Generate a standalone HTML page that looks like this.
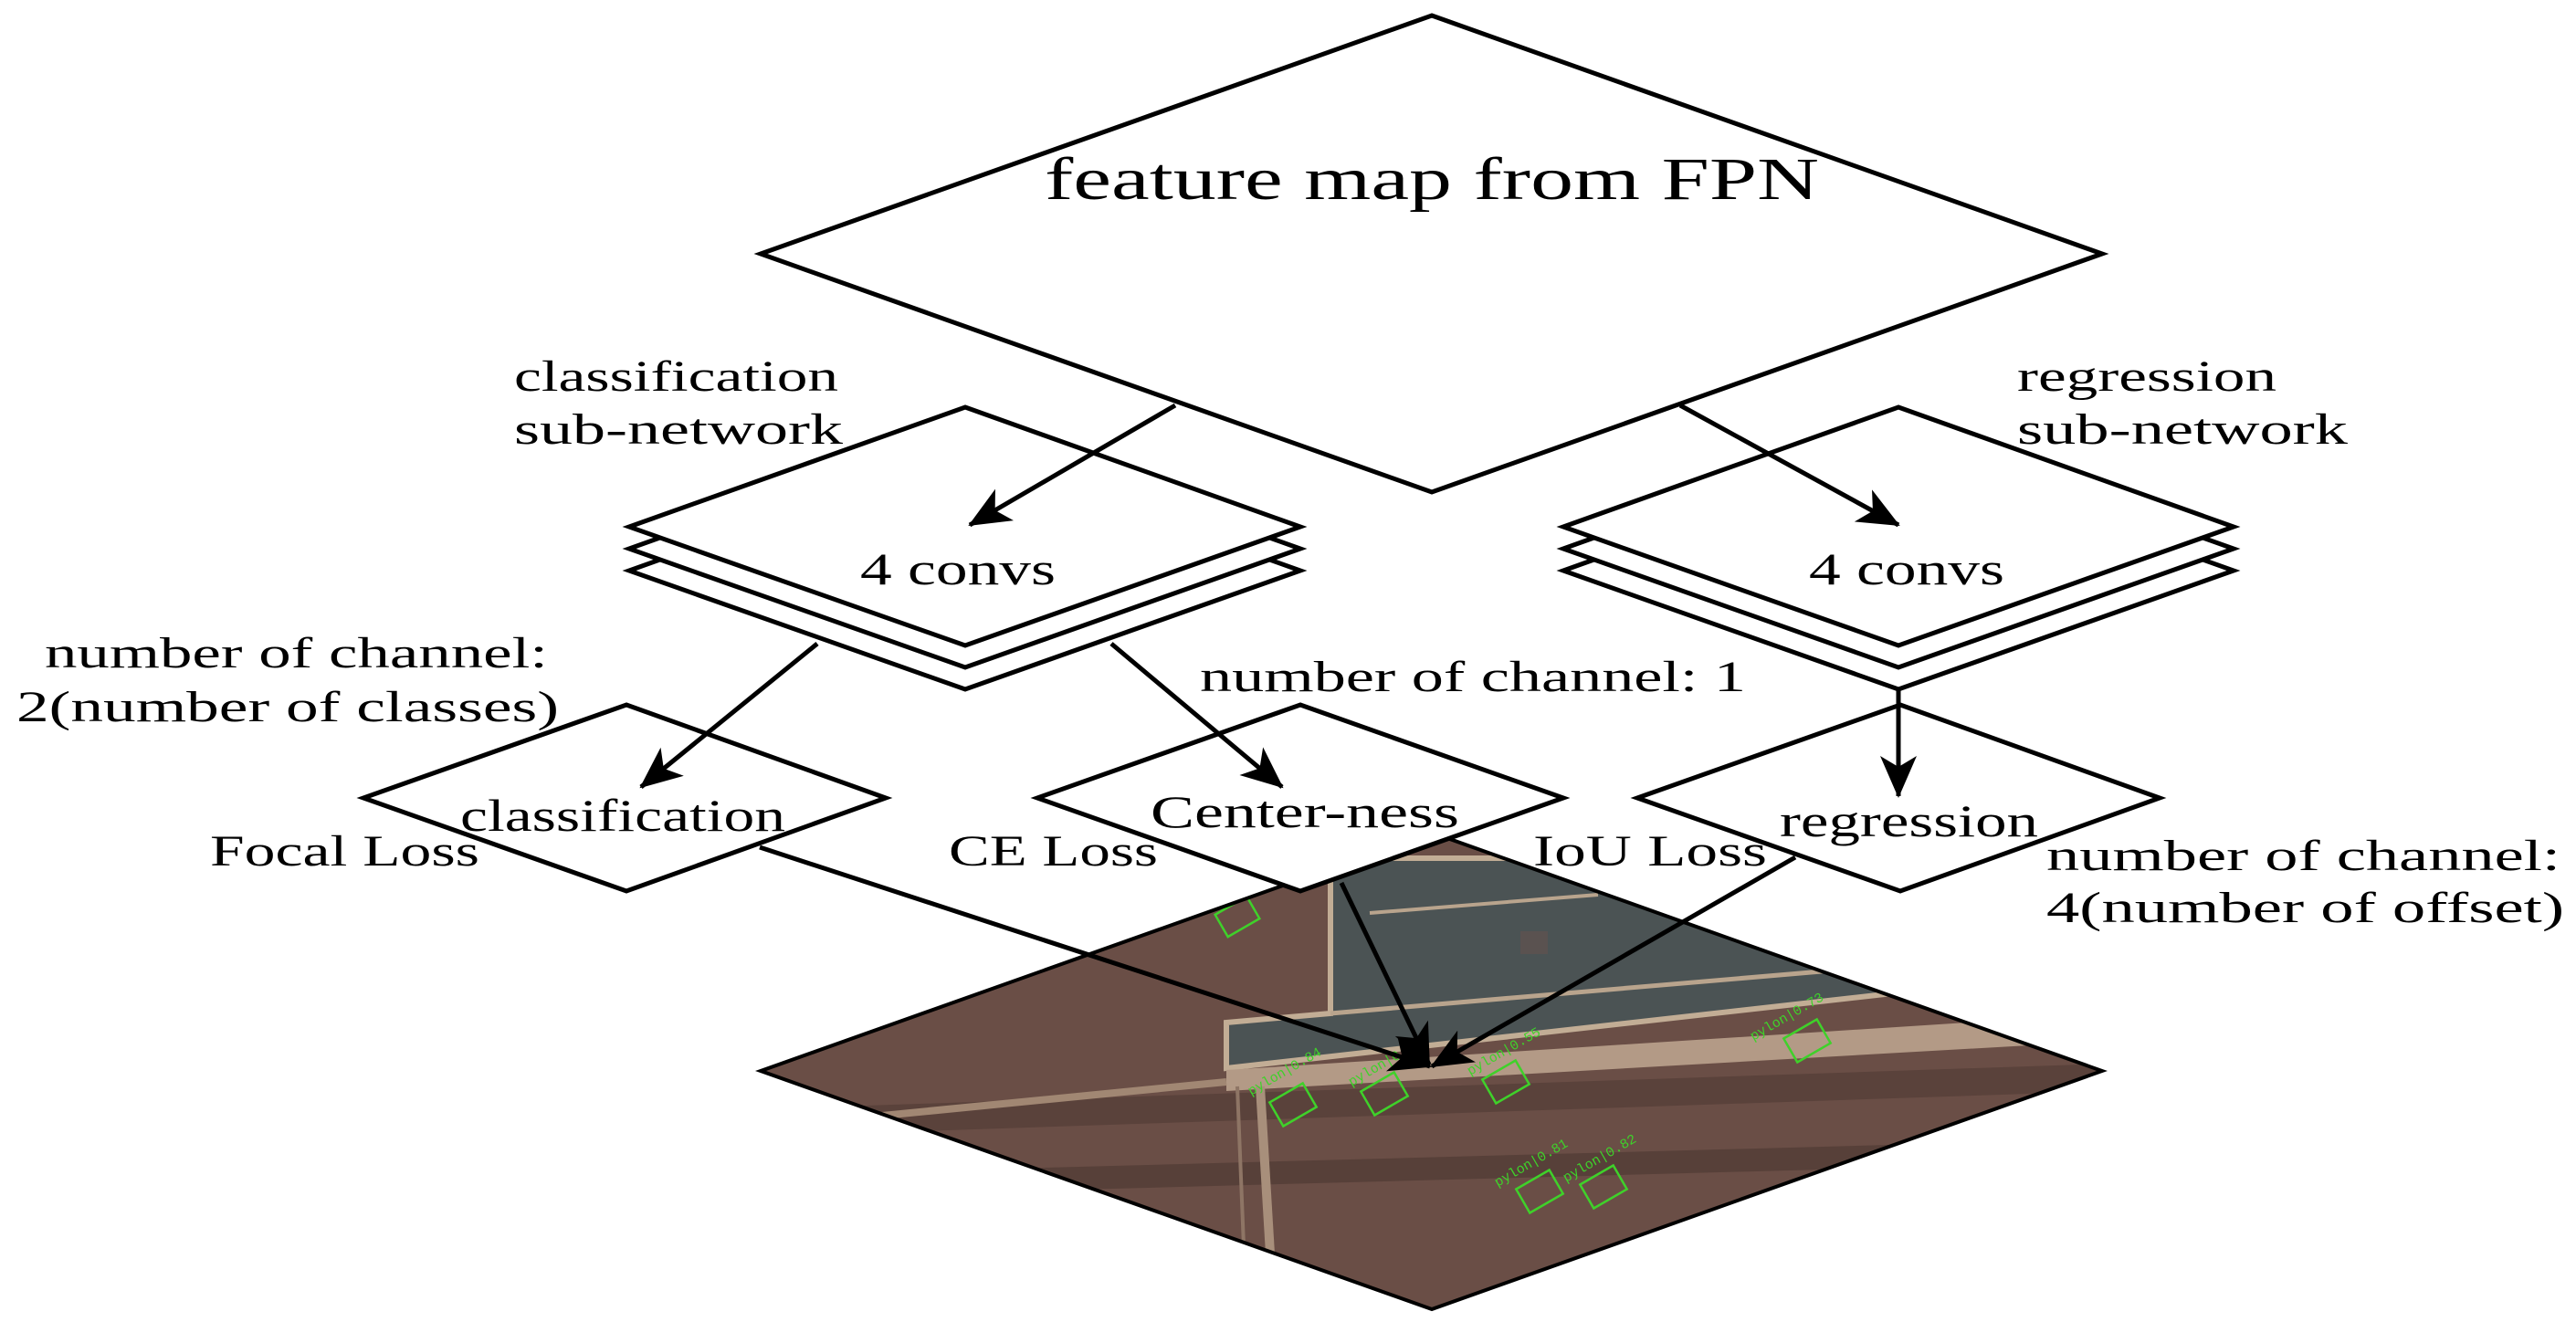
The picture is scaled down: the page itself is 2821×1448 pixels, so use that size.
<!DOCTYPE html>
<html><head><meta charset="utf-8"><style>
html,body{margin:0;padding:0;background:#fff;}
svg{display:block;}
text{font-family:"Liberation Serif",serif;fill:#000;}
</style></head><body>
<svg width="2821" height="1448" viewBox="0 0 2821 1448" xmlns="http://www.w3.org/2000/svg">
<defs>
<marker id="ah" markerUnits="userSpaceOnUse" markerWidth="60" markerHeight="50" refX="44" refY="20" orient="auto">
<path d="M0,0 L46,20 L0,40 L12,20 Z" fill="#000"/>
</marker>
<clipPath id="pc"><polygon points="1568,912 2302,1173 1568,1434 833,1173"/></clipPath>
</defs>

<!-- photo -->
<g clip-path="url(#pc)">
<rect x="830" y="900" width="1480" height="540" fill="#644a42"/>
<rect x="830" y="900" width="1480" height="540" fill="#705249" opacity="0.5"/>
<line x1="830" y1="1230" x2="2310" y2="1180" stroke="#5a423b" stroke-width="30"/>
<line x1="830" y1="1300" x2="2310" y2="1260" stroke="#574039" stroke-width="25"/>
<!-- substation -->
<polygon points="1457,940 2100,940 2100,1085 1343,1170 1343,1120 1457,1110" fill="#4b5354"/>
<polygon points="1457,940 2100,940 2100,1085 1343,1170 1343,1120 1457,1110" fill="none" stroke="#c2ad95" stroke-width="6"/>
<line x1="1457" y1="1110" x2="2100" y2="1055" stroke="#b9a48d" stroke-width="5"/>
<line x1="1500" y1="1000" x2="1750" y2="980" stroke="#b9a48d" stroke-width="4"/>
<rect x="1665" y="1020" width="30" height="25" fill="#5a5250"/>
<!-- roads -->
<polygon points="1343,1172 2310,1110 2310,1140 1343,1195" fill="#b39a86"/>
<line x1="833" y1="1235" x2="1343" y2="1185" stroke="#a18773" stroke-width="8"/>
<line x1="1380" y1="1190" x2="1395" y2="1440" stroke="#a88f7b" stroke-width="10"/>
<line x1="1355" y1="1190" x2="1365" y2="1440" stroke="#8e7565" stroke-width="4"/>
<!-- detections -->
<g fill="none" stroke="#3fd12a" stroke-width="2.5">
<rect x="1335" y="990" width="40" height="28" transform="rotate(-30 1355 1004)"/>
<rect x="1395" y="1195" width="42" height="30" transform="rotate(-30 1416 1210)"/>
<rect x="1495" y="1183" width="42" height="30" transform="rotate(-30 1516 1198)"/>
<rect x="1628" y="1170" width="42" height="30" transform="rotate(-30 1649 1185)"/>
<rect x="1958" y="1125" width="42" height="30" transform="rotate(-30 1979 1140)"/>
<rect x="1665" y="1290" width="42" height="30" transform="rotate(-30 1686 1305)"/>
<rect x="1735" y="1285" width="42" height="30" transform="rotate(-30 1756 1300)"/>
</g>
<g font-family="Liberation Mono,monospace" font-size="15" fill="#3fd12a">
<text x="1370" y="1200" transform="rotate(-30 1370 1200)" style="fill:#3fd12a;font-family:'Liberation Mono',monospace">pylon|0.84</text>
<text x="1480" y="1190" transform="rotate(-30 1480 1190)" style="fill:#3fd12a;font-family:'Liberation Mono',monospace">pylon|0.44</text>
<text x="1610" y="1178" transform="rotate(-30 1610 1178)" style="fill:#3fd12a;font-family:'Liberation Mono',monospace">pylon|0.55</text>
<text x="1920" y="1140" transform="rotate(-30 1920 1140)" style="fill:#3fd12a;font-family:'Liberation Mono',monospace">pylon|0.73</text>
<text x="1640" y="1300" transform="rotate(-30 1640 1300)" style="fill:#3fd12a;font-family:'Liberation Mono',monospace">pylon|0.81</text>
<text x="1715" y="1295" transform="rotate(-30 1715 1295)" style="fill:#3fd12a;font-family:'Liberation Mono',monospace">pylon|0.82</text>
</g>
</g>
<polygon points="1568,912 2302,1173 1568,1434 833,1173" fill="none" stroke="#000" stroke-width="4"/>

<g fill="#fff" stroke="#000" stroke-width="5" stroke-linejoin="miter">
<!-- big diamond -->
<polygon points="1568,17 2302,278 1568,539 833,278"/>
<!-- left convs -->
<polygon points="1057,494 1424,625 1057,755 689,625"/>
<polygon points="1057,470 1424,601 1057,731 689,601"/>
<polygon points="1057,446 1424,577 1057,707 689,577"/>
<!-- right convs -->
<polygon points="2079,494 2446,625 2079,755 1712,625"/>
<polygon points="2079,470 2446,601 2079,731 1712,601"/>
<polygon points="2079,446 2446,577 2079,707 1712,577"/>
<!-- small diamonds -->
<polygon points="686,772 970,874 686,976 398,874"/>
<polygon points="1424,772 1712,874 1424,976 1136,874"/>
<polygon points="2081,772 2365,874 2081,976 1793,874"/>
</g>

<!-- arrows -->
<g stroke="#000" stroke-width="5" fill="none" marker-end="url(#ah)">
<line x1="1287" y1="444" x2="1062" y2="575"/>
<line x1="1840" y1="444" x2="2079" y2="575"/>
<line x1="895" y1="705" x2="702" y2="862"/>
<line x1="1217" y1="705" x2="1404" y2="862"/>
<line x1="2079" y1="755" x2="2079" y2="872"/>
<line x1="832" y1="928" x2="1566" y2="1168"/>
<line x1="1469" y1="967" x2="1565" y2="1166"/>
<line x1="1966" y1="939" x2="1568" y2="1168"/>
</g>

<!-- text -->
<text x="1144" y="218" font-size="66" textLength="848" lengthAdjust="spacingAndGlyphs">feature map from FPN</text>
<text x="942" y="640" font-size="50" textLength="214" lengthAdjust="spacingAndGlyphs">4 convs</text>
<text x="1981" y="640" font-size="50" textLength="214" lengthAdjust="spacingAndGlyphs">4 convs</text>
<text x="504" y="910" font-size="50" textLength="356" lengthAdjust="spacingAndGlyphs">classification</text>
<text x="1260" y="906" font-size="50" textLength="338" lengthAdjust="spacingAndGlyphs">Center-ness</text>
<text x="1949" y="916" font-size="50" textLength="283" lengthAdjust="spacingAndGlyphs">regression</text>

<g font-size="48">
<text x="563" y="428" textLength="355" lengthAdjust="spacingAndGlyphs">classification</text>
<text x="563" y="486" textLength="360" lengthAdjust="spacingAndGlyphs">sub-network</text>
<text x="2209" y="428" textLength="284" lengthAdjust="spacingAndGlyphs">regression</text>
<text x="2209" y="486" textLength="362" lengthAdjust="spacingAndGlyphs">sub-network</text>
<text x="49" y="731" textLength="551" lengthAdjust="spacingAndGlyphs">number of channel:</text>
<text x="18" y="790" textLength="594" lengthAdjust="spacingAndGlyphs">2(number of  classes)</text>
<text x="1314" y="757" textLength="598" lengthAdjust="spacingAndGlyphs">number of channel: 1</text>
<text x="230" y="948" textLength="295" lengthAdjust="spacingAndGlyphs">Focal Loss</text>
<text x="1039" y="948" textLength="229" lengthAdjust="spacingAndGlyphs">CE Loss</text>
<text x="1679" y="948" textLength="256" lengthAdjust="spacingAndGlyphs">IoU Loss</text>
<text x="2241" y="953" textLength="563" lengthAdjust="spacingAndGlyphs">number of channel:</text>
<text x="2241" y="1010" textLength="567" lengthAdjust="spacingAndGlyphs">4(number of  offset)</text>
</g>
</svg>
</body></html>
